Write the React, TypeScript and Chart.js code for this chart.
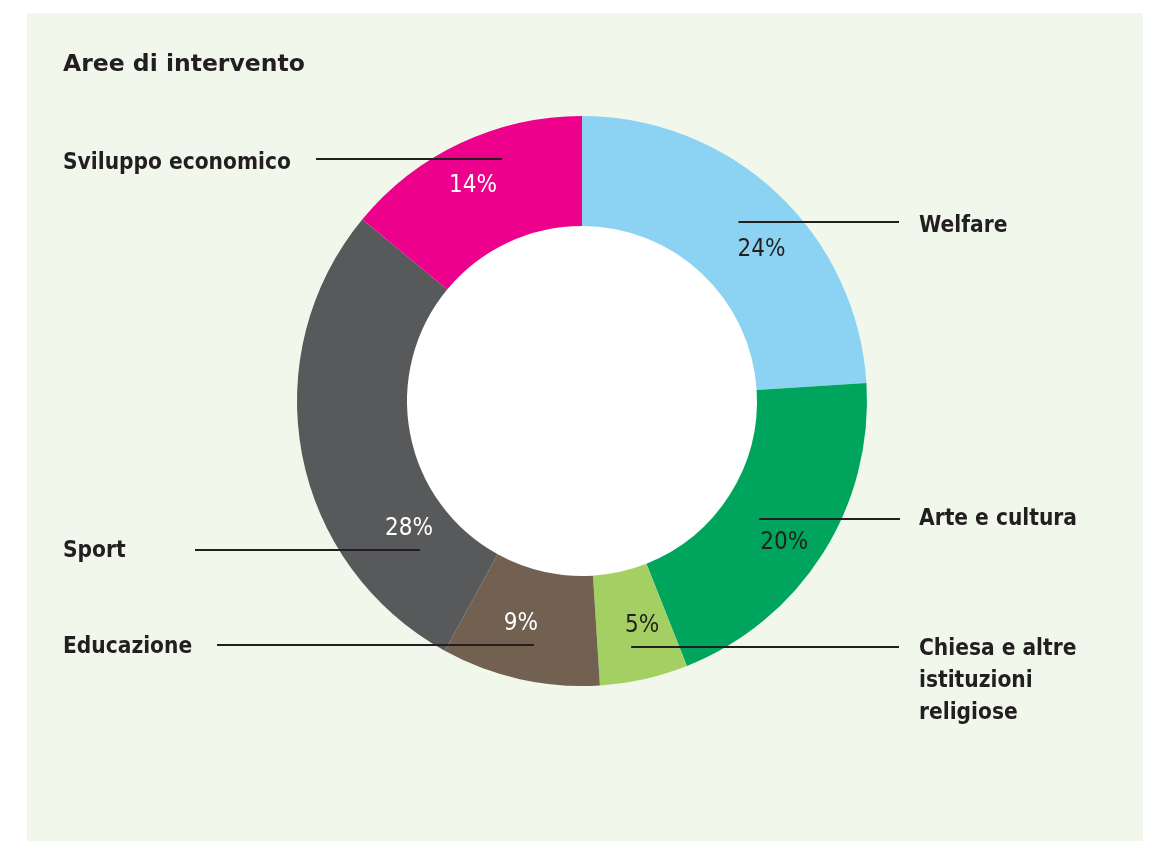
import React, { useEffect, useRef } from "react";
import { Chart, registerables } from "chart.js";

Chart.register(...registerables);

const title = "Aree di intervento";
const categories = ["Welfare", "Arte e cultura", "Chiesa e altre istituzioni religiose", "Educazione", "Sport", "Sviluppo economico"];
const labelLines = [["Welfare"], ["Arte e cultura"], ["Chiesa e altre", "istituzioni", "religiose"], ["Educazione"], ["Sport"], ["Sviluppo economico"]];
const values = [24, 20, 5, 9, 28, 14];
const colors = ["#8cd3f3", "#00a55d", "#a4cf62", "#726151", "#58595b", "#ec008c"];
const pctColors = ["#231f20", "#231f20", "#231f20", "#ffffff", "#ffffff", "#ffffff"];

// annotation layout (offsets from each arc's mid point)
const layout = [
  { tdx: 22, tdy: 16, ly: -11, ldx: -1, lx: 872, side: "right", labY: 4 },
  { tdx: 8, tdy: 19, ly: -5, ldx: -17, lx: 873, side: "right", labY: 0 },
  { tdx: 10, tdy: 0, ly: 22, ldx: -1, lx: 872, side: "right", labY: 2 },
  { tdx: -11, tdy: -2, ly: 20, ldx: 2, lx: 190, side: "left", labY: 2 },
  { tdx: 53, tdy: 85, ly: 106, ldx: 64, lx: 168, side: "left", labY: 1 },
  { tdx: -11, tdy: -7, ly: -34, ldx: 18, lx: 289, side: "left", labY: 4 },
];

const BG = "#f2f7ec";
const TEXT = "#231f20";

const annotations = {
  id: "annotations",
  beforeDatasetsDraw(chart: any) {
    const ctx = chart.ctx;
    const arc = chart.getDatasetMeta(0).data[0];
    if (!arc) return;
    ctx.save();
    ctx.fillStyle = "#ffffff";
    ctx.beginPath();
    ctx.arc(arc.x, arc.y, arc.innerRadius, 0, Math.PI * 2);
    ctx.fill();
    ctx.restore();
  },
  afterDatasetsDraw(chart: any) {
    const ctx = chart.ctx;
    const meta = chart.getDatasetMeta(0);
    ctx.save();
    meta.data.forEach((el: any, i: number) => {
      const p = el.tooltipPosition();
      const L = layout[i];
      const y = Math.round(p.y + L.ly);
      const xi = p.x + L.ldx;
      ctx.strokeStyle = TEXT;
      ctx.lineWidth = 2;
      ctx.beginPath();
      ctx.moveTo(xi, y);
      ctx.lineTo(L.lx, y);
      ctx.stroke();

      ctx.fillStyle = pctColors[i];
      ctx.font = "24px 'DejaVu Sans Condensed'";
      ctx.textAlign = "center";
      ctx.textBaseline = "middle";
      ctx.fillText(values[i] + "%", p.x + L.tdx, p.y + L.tdy);

      ctx.fillStyle = TEXT;
      ctx.font = "bold 22.5px 'DejaVu Sans Condensed'";
      ctx.textAlign = "left";
      const lx = L.side === "right" ? 892 : 36;
      labelLines[i].forEach((t, k) => {
        ctx.fillText(t, lx, y + L.labY + k * 32);
      });
    });
    ctx.restore();
  },
};

export default function App() {
  const ref = useRef<HTMLCanvasElement>(null);
  useEffect(() => {
    if (!ref.current) return;
    const chart = new Chart(ref.current, {
      type: "doughnut",
      data: {
        labels: categories,
        datasets: [
          {
            data: values,
            backgroundColor: colors,
            borderWidth: 0,
          },
        ],
      },
      options: {
        responsive: false,
        animation: false,
        cutout: "61.4%",
        layout: { padding: { left: 270, right: 276, top: 103, bottom: 155 } },
        plugins: { legend: { display: false }, tooltip: { enabled: false } },
      },
      plugins: [annotations],
    });
    return () => chart.destroy();
  }, []);
  return (
    <div style={{ position: "absolute", left: 27, top: 13, width: 1116, height: 828, background: BG }}>
      <canvas ref={ref} width={1116} height={828} style={{ display: "block" }} />
      <div
        style={{
          position: "absolute",
          left: 36,
          top: 39,
          fontFamily: "'DejaVu Sans', sans-serif",
          fontWeight: 700,
          fontSize: 23.5,
          lineHeight: "23.5px",
          color: TEXT,
          whiteSpace: "nowrap",
        }}
      >
        {title}
      </div>
    </div>
  );
}
